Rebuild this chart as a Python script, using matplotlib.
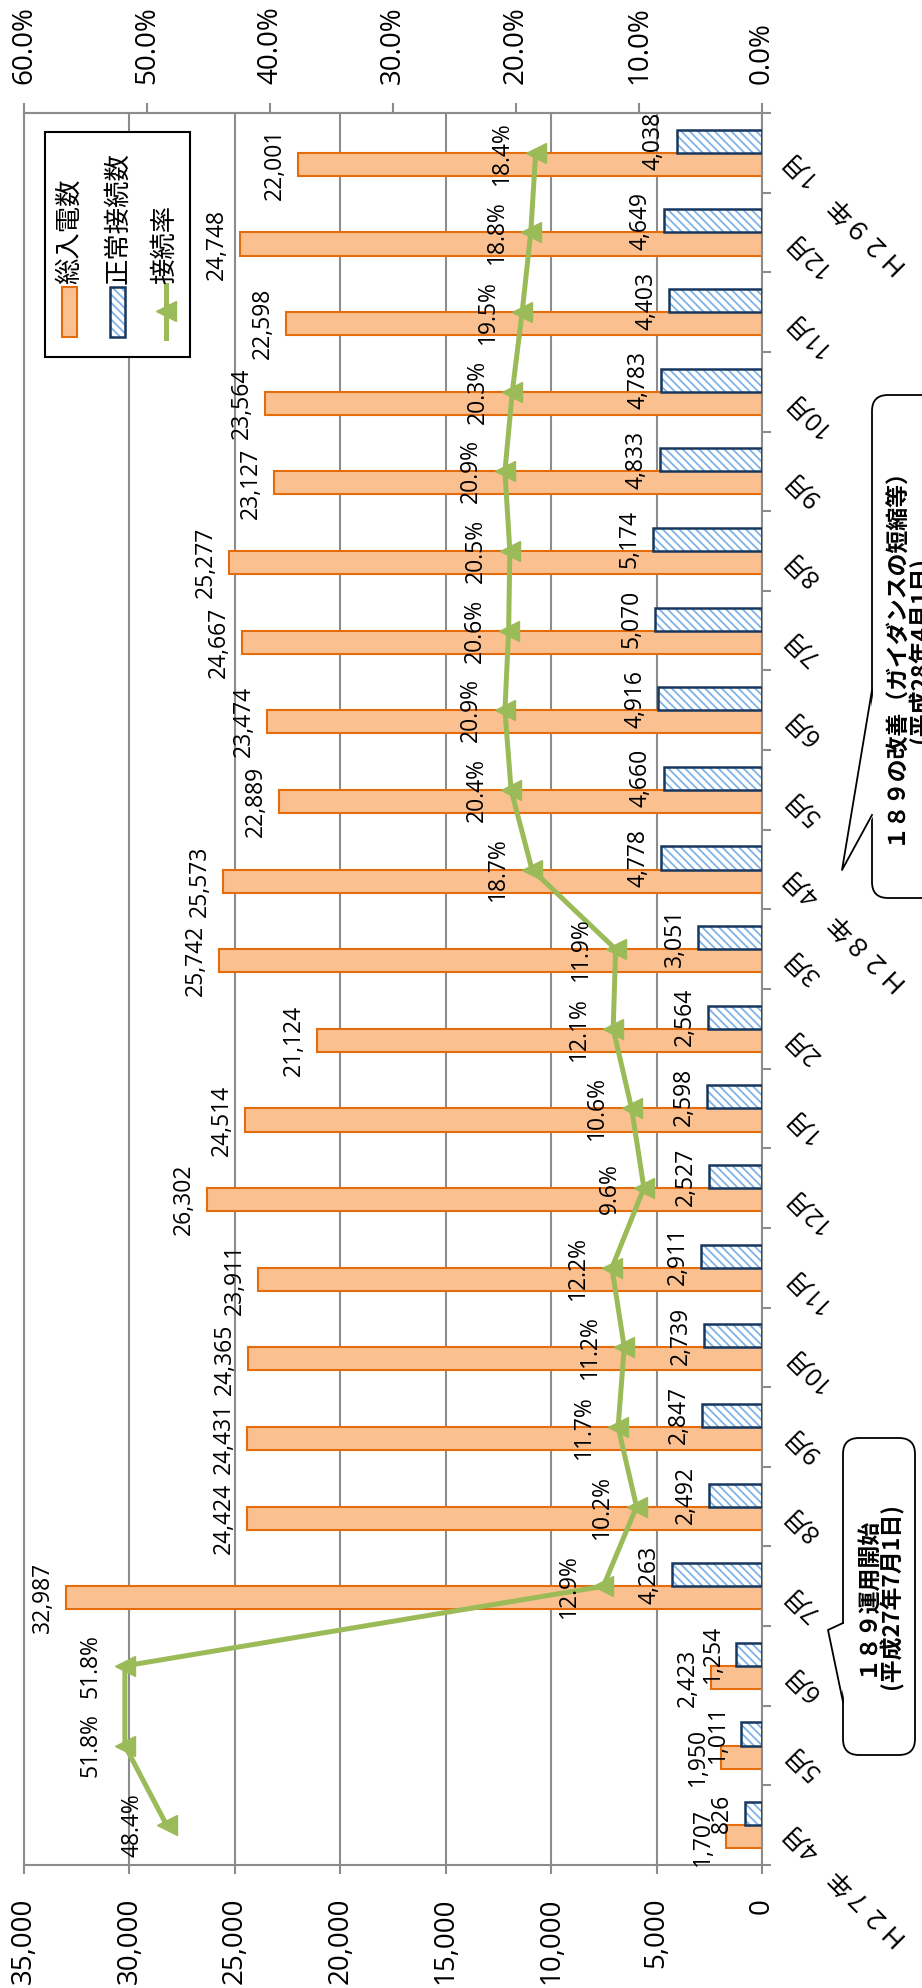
import matplotlib
matplotlib.use("Agg")
import matplotlib.pyplot as plt
from matplotlib.patches import Rectangle, FancyBboxPatch, Polygon
from matplotlib.lines import Line2D
from matplotlib.transforms import Affine2D
from matplotlib.ticker import FuncFormatter
import numpy as np

# ---------------- data ----------------
categories = ["Ｈ２７年　4月", "5月", "6月", "7月", "8月", "9月", "10月", "11月", "12月",
              "1月", "2月", "3月", "Ｈ２８年　4月", "5月", "6月", "7月", "8月", "9月",
              "10月", "11月", "12月", "Ｈ２９年　1月"]
total_calls = [1707, 1950, 2423, 32987, 24424, 24431, 24365, 23911, 26302, 24514,
               21124, 25742, 25573, 22889, 23474, 24667, 25277, 23127, 23564,
               22598, 24748, 22001]
connected_calls = [826, 1011, 1254, 4263, 2492, 2847, 2739, 2911, 2527, 2598, 2564,
                   3051, 4778, 4660, 4916, 5070, 5174, 4833, 4783, 4403, 4649, 4038]
connect_rate = [48.4, 51.8, 51.8, 12.9, 10.2, 11.7, 11.2, 12.2, 9.6, 10.6, 12.1,
                11.9, 18.7, 20.4, 20.9, 20.6, 20.5, 20.9, 20.3, 19.5, 18.8, 18.4]
value_ticks = [0, 5000, 10000, 15000, 20000, 25000, 30000, 35000]
rate_ticks = [0, 10, 20, 30, 40, 50, 60]
series_names = ["総入電数", "正常接続数", "接続率"]
note_texts = ["１８９運用開始\n(平成27年7月1日)",
              "１８９の改善（ガイダンスの短縮等）\n(平成28年4月1日)"]

# ---------------- style ----------------
ORANGE = "#FAC090"
ORANGE_E = "#E46C0A"
HATCH_C = "#7FB2E5"
NAVY = "#17375E"
GREEN = "#9BBB59"
GRAY = "#8C8C8C"
NUMF = ["Open Sans", "DejaVu Sans"]
CJKF = ["Open Sans", "Noto Sans CJK JP", "DejaVu Sans"]
JPF = ["Noto Sans CJK JP", "DejaVu Sans"]

W, H = 922, 1988
fig = plt.figure(figsize=(W / 100, H / 100), dpi=100)
fig.patch.set_facecolor("white")
PX = Affine2D().scale(1, -1).translate(0, H).scale(1.0 / W, 1.0 / H) + fig.transFigure

L, R, T, B = 24, 762, 113, 1865
ax = fig.add_axes([L / W, 1 - B / H, (R - L) / W, (B - T) / H])
n = len(categories)
y = np.arange(n)
bh = 0.29

ax.set_xlim(35000, 0)
ax.set_ylim(-0.5, n - 0.5)

ax.barh(y - bh / 2, total_calls, height=bh, color=ORANGE, edgecolor=ORANGE_E,
        linewidth=1.5, zorder=2)
plt.rcParams["hatch.linewidth"] = 1.3
ax.barh(y + bh / 2, connected_calls, height=bh, color="white", edgecolor=HATCH_C,
        hatch="\\\\\\\\", linewidth=0, zorder=2)
ax.barh(y + bh / 2, connected_calls, height=bh, fill=False, edgecolor=NAVY,
        linewidth=1.8, zorder=3)

ax.set_xticks(value_ticks)
ax.xaxis.set_major_formatter(FuncFormatter(lambda v, p: f"{int(v):,}"))
ax.grid(axis="x", color=GRAY, linewidth=1.5)
ax.set_axisbelow(True)
ax.tick_params(axis="x", direction="out", length=6.5, width=1.5, color=GRAY,
               pad=17, labelsize=20, labelrotation=90)
for lab in ax.get_xticklabels():
    lab.set_fontfamily(NUMF)

ax.yaxis.set_ticks_position("right")
ax.set_yticks(np.arange(-0.5, n, 1.0))
ax.set_yticklabels([])
ax.tick_params(axis="y", direction="out", length=6.5, width=1.5, color=GRAY)
for s in ax.spines.values():
    s.set_color(GRAY)
    s.set_linewidth(1.5)

ax2 = ax.twiny()
ax2.set_xlim(60, 0)
ax2.set_xticks(rate_ticks)
ax2.xaxis.set_major_formatter(FuncFormatter(lambda v, p: f"{v:.1f}%"))
ax2.tick_params(axis="x", direction="out", length=7, width=1.5, color=GRAY,
                pad=14, labelsize=20, labelrotation=90)
for lab in ax2.get_xticklabels():
    lab.set_fontfamily(NUMF)
for k, s in ax2.spines.items():
    s.set_visible(k == "top")
    s.set_color(GRAY)
    s.set_linewidth(1.5)

ax2.plot(connect_rate, y, color=GREEN, linewidth=3.6, marker="<", markersize=14,
         zorder=5)

# data labels
for i, v in enumerate(total_calls):
    ax.annotate(f"{v:,}", (v, i - bh / 2), xytext=(-8, 0), textcoords="offset points",
                rotation=90, ha="right", va="center", fontsize=16.5,
                family=NUMF, annotation_clip=False, zorder=6)
for i, v in enumerate(connected_calls):
    ax.annotate(f"{v:,}", (v, i + bh / 2), xytext=(-8, 0), textcoords="offset points",
                rotation=90, ha="right", va="center", fontsize=16.5,
                family=NUMF, annotation_clip=False, zorder=6)
for i, r in enumerate(connect_rate):
    ax2.annotate(f"{r:.1f}%", (r, i), xytext=(-16, 0), textcoords="offset points",
                 rotation=90, ha="right", va="center", fontsize=16.5,
                 family=NUMF, annotation_clip=False, zorder=6)

# category labels
for i, c in enumerate(categories):
    ax.annotate(c, (0, i), xytext=(19, -1.5), textcoords="offset points",
                rotation=135, rotation_mode="anchor", ha="right", va="center",
                fontsize=18, family=CJKF, annotation_clip=False)

# ---------------- legend ----------------
fig.add_artist(Rectangle((45, 132), 145, 225, transform=PX, facecolor="white",
                         edgecolor="black", linewidth=1.5, zorder=10))
fig.add_artist(Rectangle((62, 287), 15, 50, transform=PX, facecolor=ORANGE,
                         edgecolor=ORANGE_E, linewidth=1.5, zorder=11))
fig.add_artist(Rectangle((110, 287), 15, 50, transform=PX, facecolor="white",
                         edgecolor=HATCH_C, hatch="\\\\\\\\", linewidth=0, zorder=11))
fig.add_artist(Rectangle((110, 287), 15, 50, transform=PX, fill=False,
                         edgecolor=NAVY, linewidth=1.8, zorder=12))
fig.add_artist(Line2D([165.5, 165.5], [285, 338], transform=PX, color=GREEN,
                      linewidth=3.6, zorder=11))
fig.add_artist(Line2D([165.5], [311], transform=PX, color=GREEN, marker="<",
                      markersize=14, linestyle="none", zorder=11))
for xc, name in zip([70, 118, 165], series_names):
    fig.text(xc, 284, name, transform=PX, rotation=90, rotation_mode="anchor",
             ha="left", va="center", fontsize=19, family=JPF, zorder=12)

# ---------------- callouts ----------------
def callout(x0, y0, x1, y1, base_a, base_b, tip, text, cx, cy):
    fig.add_artist(FancyBboxPatch((x0, y0), x1 - x0, y1 - y0,
                                  boxstyle="round,pad=0,rounding_size=16",
                                  transform=PX, facecolor="white",
                                  edgecolor="black", linewidth=1.3, zorder=10))
    fig.add_artist(Polygon([(x0 + 2, base_a), tip, (x0 + 2, base_b)], closed=True,
                           transform=PX, facecolor="white", edgecolor="none",
                           zorder=11))
    fig.add_artist(Line2D([x0, tip[0], x0], [base_a, tip[1], base_b], transform=PX,
                          color="black", linewidth=1.3, zorder=12))
    fig.text(cx, cy, text, transform=PX, rotation=90, ha="center", va="center",
             multialignment="center", fontsize=16.5, fontweight="bold",
             family=JPF, linespacing=1.05, zorder=13)

callout(843, 1438, 915, 1755, 1623, 1702, (828, 1630), note_texts[0], 879, 1596)
callout(872, 395, 952, 898, 690, 815, (842, 870), note_texts[1], 908, 650)

fig.savefig("out.png", dpi=100, facecolor="white")
